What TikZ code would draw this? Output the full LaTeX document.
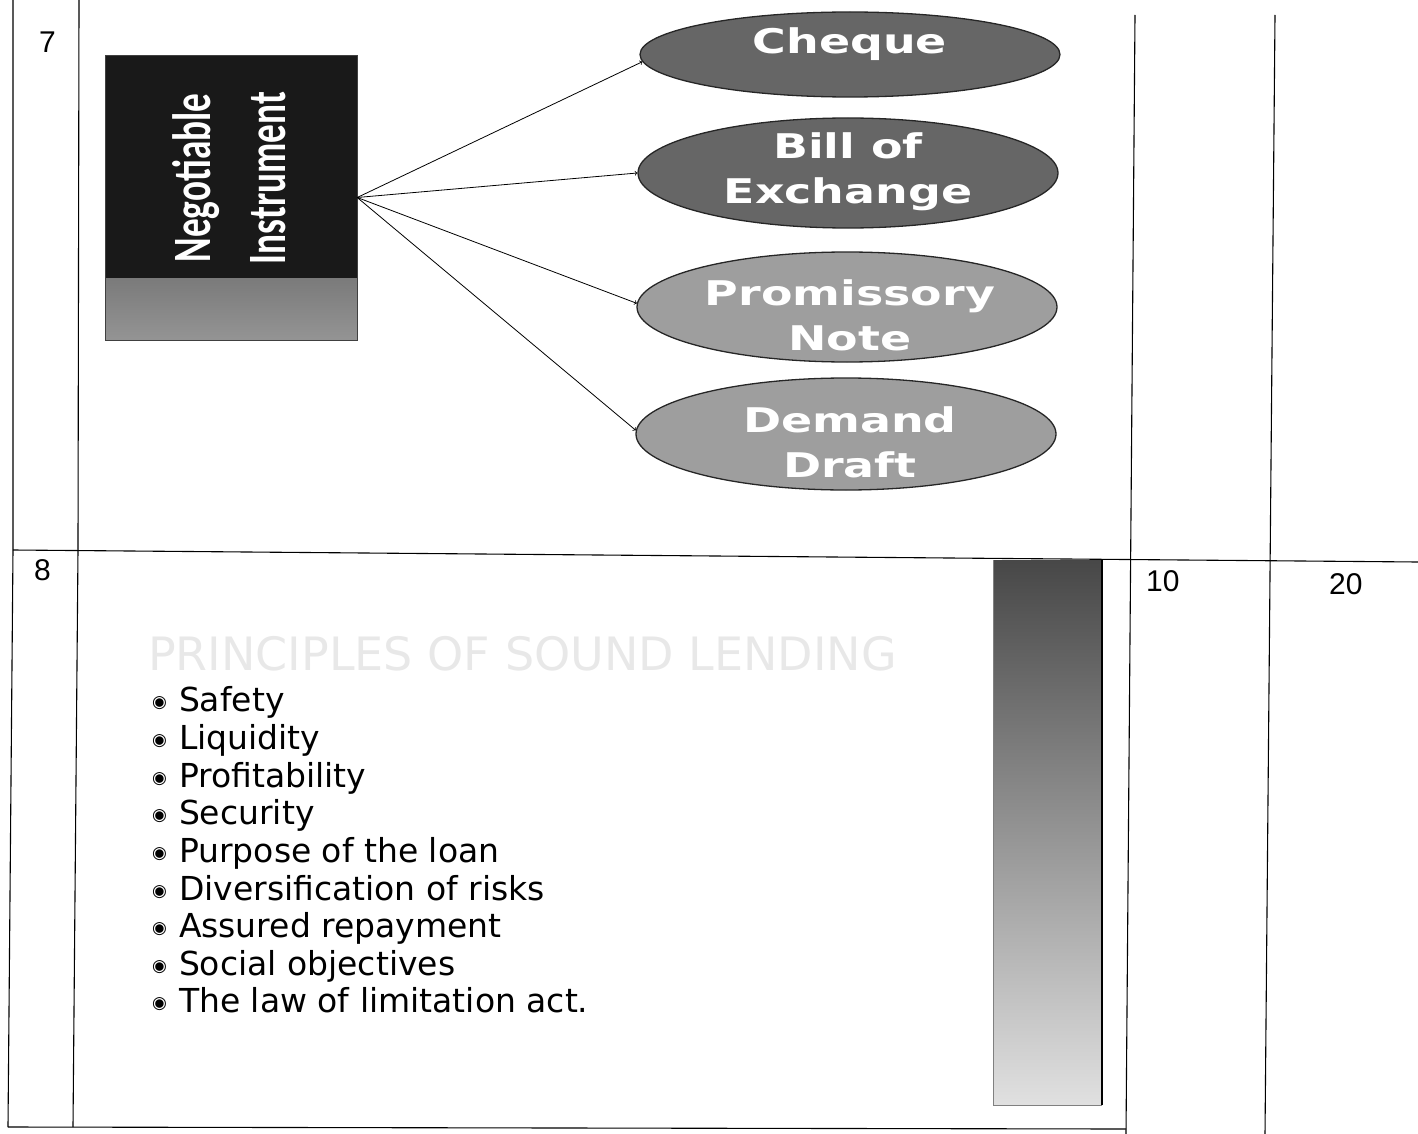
\documentclass[tikz,border=0pt]{standalone}
\usepackage{fontspec}
\setmainfont{Liberation Sans}
\newfontfamily\ovalfont{DejaVu Sans}
\newfontfamily\listfont{DejaVu Sans}
\newfontfamily\boxfont{Carlito}
\usetikzlibrary{shapes.geometric}
\newcommand\bul{{\fontsize{17}{17}\selectfont\raisebox{4pt}{◉}}\hspace{12pt}}

\begin{document}
\begin{tikzpicture}[x=1pt, y=-1pt,
		gridline/.style={line width=1.1pt},
		num/.style={font=\fontsize{30}{30}\selectfont, anchor=base west, inner sep=0pt},
		nibox/.style={draw=black!75, fill=black!90, minimum width=252pt, minimum height=285pt, inner sep=0pt,
			path picture={\shade[top color=black!88, bottom color=black!42] ([yshift=62pt]path picture bounding box.south west) rectangle (path picture bounding box.south east);}},
		nitext/.style={font=\boxfont\bfseries\fontsize{54}{75}\selectfont, text=white, align=center, inner sep=0pt, rotate=90},
		oval/.style={ellipse, draw=black!85, line width=1.3pt, minimum width=420pt, inner sep=0pt},
		ovaltext/.style={font=\ovalfont\bfseries\fontsize{34}{45}\selectfont, text=white, align=center, xscale=1.35, inner sep=0pt},
		item/.style={font=\listfont\fontsize{33}{33}\selectfont, anchor=base west, inner sep=0pt},
		link/.style={->, line width=0.8pt}
	]
	\useasboundingbox (0,0) rectangle (1418,1134);
	
	% table rules
	\draw[gridline] (13,0) -- (13,550) -- (8,1127);
	\draw[gridline] (79,0) -- (78,550) -- (73,1127);
	\draw[gridline] (1135,15) -- (1126,1134);
	\draw[gridline] (1275,15) -- (1265,1134);
	\draw[gridline] (13,550) -- (1418,562);
	\draw[gridline] (8,1127) -- (1126,1129);
	
	\node[num] (n7) at (39,53) {7};
	\node[num] (n8) at (34,580) {8};
	\node[num] (n10) at (1146,591) {10};
	\node[num] (n20) at (1329,594) {20};
	
	% row 7
	\node[nibox] (ni) at (231,197.5) {};
	\node[nitext] (nitext) at (229,178) {\scalebox{0.69}[1]{Negotiable}\\\scalebox{0.69}[1]{Instrument}};
	
	\node[oval, fill=black!60, minimum height=85pt] (cheque) at (850,54.5) {};
	\node[oval, fill=black!60, minimum height=110pt] (bill) at (848,173) {};
	\node[oval, fill=black!38, minimum height=110pt] (promissory) at (847,307) {};
	\node[oval, fill=black!38, minimum height=112pt] (demand) at (846,434) {};
	
	\node[ovaltext] (chequetext) at (850,44) {Cheque};
	\node[ovaltext] (billtext) at (848,172) {Bill of\\Exchange};
	\node[ovaltext] (promissorytext) at (850,315) {Promissory\\Note};
	\node[ovaltext] (demandtext) at (850,442) {Demand\\Draft};
	
	\draw[link] (ni.east) -- (cheque.182);
	\draw[link] (ni.east) -- (bill.west);
	\draw[link] (ni.east) -- (promissory.179);
	\draw[link] (ni.east) -- (demand.179);
	
	% row 8
	\node[font=\listfont\fontsize{46}{46}\selectfont, text=black!9, anchor=base west, inner sep=0pt] (heading) at (148,670) {PRINCIPLES OF SOUND LENDING};
	\node[item] (i1) at (152,711) {\bul Safety};
	\node[item] (i2) at (152,749) {\bul Liquidity};
	\node[item] (i3) at (152,787) {\bul Profitability};
	\node[item] (i4) at (152,824) {\bul Security};
	\node[item] (i5) at (152,862) {\bul Purpose of the loan};
	\node[item] (i6) at (152,900) {\bul Diversification of risks};
	\node[item] (i7) at (152,937) {\bul Assured repayment};
	\node[item] (i8) at (152,975) {\bul Social objectives};
	\node[item] (i9) at (152,1012) {\bul The law of limitation act.};
	
	\shade[top color=black!72, bottom color=black!12] (993,560) rectangle (1102,1105);
	\draw[line width=2.5pt] (1102,560) -- (1102,1105);
	\draw[black!50, line width=0.8pt] (993,560) -- (993,1105) -- (1102,1105);
\end{tikzpicture}
\end{document}
